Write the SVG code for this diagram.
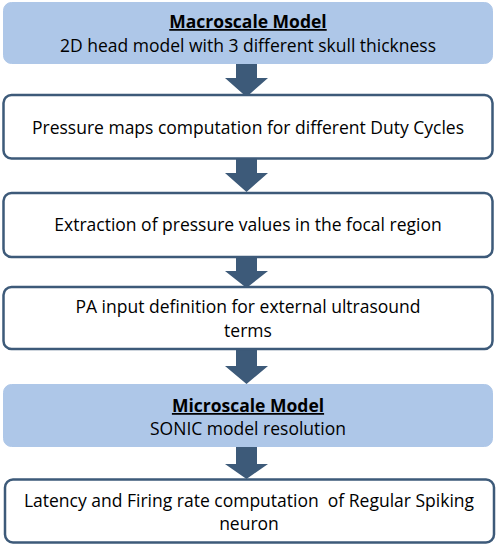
<svg xmlns="http://www.w3.org/2000/svg" width="498" height="546" viewBox="0 0 498 546">
<style>
.hdr{fill:#aec7e8;stroke:#aec7e8;stroke-width:1}
.box{fill:#ffffff;stroke:#3d5a79;stroke-width:2.5}
.arr{fill:#3d5a79}
text{font-family:"Open Sans","Liberation Sans",sans-serif;font-size:17.5px;fill:#000;text-anchor:middle}
.b{font-weight:bold;text-decoration:underline}
</style>
<rect width="498" height="546" fill="#ffffff"/>
<g id="connectors">
<polygon class="arr" points="236,64 257,64 257,78 268,78 246.5,97 225,78 236,78"/>
<polygon class="arr" points="236,159 257,159 257,173 268,173 246.5,192 225,173 236,173"/>
<polygon class="arr" points="236,258 257,258 257,271 268,271 246.5,288 225,271 236,271"/>
<polygon class="arr" points="236,350 257,350 257,366 268,366 246.5,384 225,366 236,366"/>
<polygon class="arr" points="236,447 257,447 257,464 268,464 246.5,479 225,464 236,464"/>
</g>
<g id="macroscale">
<rect class="hdr" x="3.5" y="2.5" width="489" height="61" rx="8"/>
<text x="248" y="28" class="b">Macroscale Model</text>
<text x="248" y="52">2D head model with 3 different skull thickness</text>
</g>
<g id="pressure-maps">
<rect class="box" x="3.5" y="95" width="489" height="63.5" rx="8"/>
<text x="248" y="134">Pressure maps computation for different Duty Cycles</text>
</g>
<g id="extraction">
<rect class="box" x="3.5" y="193" width="489" height="64" rx="8"/>
<text x="248" y="231">Extraction of pressure values in the focal region</text>
</g>
<g id="pa-input">
<rect class="box" x="3.5" y="287" width="489" height="62" rx="8"/>
<text x="248" y="313">PA input definition for external ultrasound</text>
<text x="248" y="337">terms</text>
</g>
<g id="microscale">
<rect class="hdr" x="3.5" y="384.5" width="489" height="62" rx="8"/>
<text x="248" y="412" class="b">Microscale Model</text>
<text x="248" y="435">SONIC model resolution</text>
</g>
<g id="latency">
<rect class="box" x="5" y="479.5" width="489" height="63" rx="8"/>
<text x="249" y="507" xml:space="preserve">Latency and Firing rate computation  of Regular Spiking</text>
<text x="249" y="530">neuron</text>
</g>
</svg>
